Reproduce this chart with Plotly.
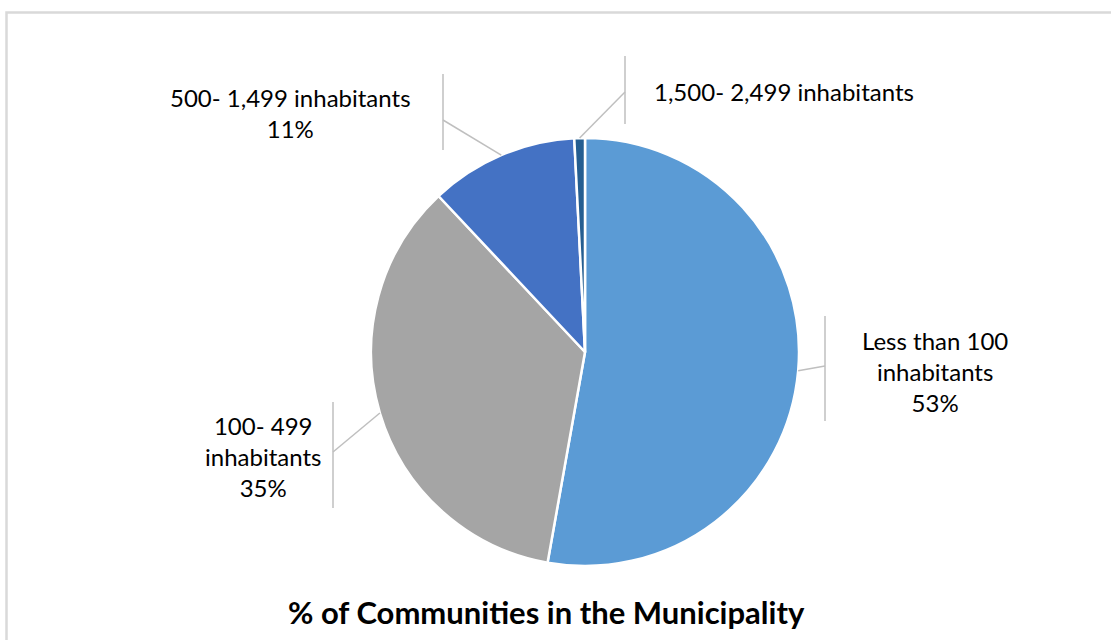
import math
import plotly.graph_objects as go

# ---- data ----
categories = ["Less than 100 inhabitants", "100- 499 inhabitants",
              "500- 1,499 inhabitants", "1,500- 2,499 inhabitants"]
shares = [52.8, 35.2, 11.2, 0.8]
label_texts = ["Less than 100<br>inhabitants<br>53%",
               "100- 499<br>inhabitants<br>35%",
               "500- 1,499 inhabitants<br>11%",
               "1,500- 2,499 inhabitants"]
colors = ["#5B9BD5", "#A5A5A5", "#4472C4", "#255E91"]
title_text = "% of Communities in the Municipality"

# ---- layout helpers (pixel geometry) ----
W, H = 1111, 640
CX, CY, R = 585, 352, 214


def px(x):
    return x / W


def py(y):
    return 1 - y / H


fig = go.Figure()
fig.add_trace(go.Pie(
    labels=categories, values=shares, sort=False, direction="clockwise",
    rotation=0, textinfo="none", hoverinfo="label+percent",
    marker=dict(colors=colors, line=dict(color="white", width=2.5)),
    domain=dict(x=[px(CX - R), px(CX + R)], y=[py(CY + R), py(CY - R)]),
))

# label block placement: (x, y, xanchor, leader elbow x, elbow y, vertical span)
label_layout = [
    (935, 371, "center", 825, 366, (316, 421)),
    (263, 456, "center", 333, 452, (402, 508)),
    (290, 113, "center", 443, 120, (74, 150)),
    (652, 91, "left", 625, 92, (56, 124)),
]

shapes = []
annotations = []
total = sum(shares)
cum = 0.0
for val, txt, (lx, ly, xa, ex, ey, (vy0, vy1)) in zip(shares, label_texts, label_layout):
    mid = (cum + val / 2) / total * 2 * math.pi
    cum += val
    sx = CX + R * math.sin(mid)
    sy = CY - R * math.cos(mid)
    shapes.append(dict(type="line", xref="paper", yref="paper",
                       x0=px(sx), y0=py(sy), x1=px(ex), y1=py(ey),
                       line=dict(color="#BFBFBF", width=1.5)))
    shapes.append(dict(type="line", xref="paper", yref="paper",
                       x0=px(ex), y0=py(vy0), x1=px(ex), y1=py(vy1),
                       line=dict(color="#BFBFBF", width=1.5)))
    annotations.append(dict(text=txt, x=px(lx), y=py(ly), xref="paper", yref="paper",
                            xanchor=xa, yanchor="middle", showarrow=False, align="center",
                            font=dict(family="Lato", size=24, color="#000000")))

annotations.append(dict(text="<b>" + title_text + "</b>", x=px(546), y=py(612),
                        xref="paper", yref="paper", xanchor="center", yanchor="middle",
                        showarrow=False,
                        font=dict(family="Lato", size=31, color="#000000")))

# chart border
shapes.append(dict(type="rect", xref="paper", yref="paper",
                   x0=px(6.5), y0=py(12.5), x1=px(1118), y1=py(660),
                   line=dict(color="#D9D9D9", width=2.5), fillcolor="rgba(0,0,0,0)"))

fig.update_layout(width=W, height=H, margin=dict(l=0, r=0, t=0, b=0),
                  paper_bgcolor="white", plot_bgcolor="white", showlegend=False,
                  shapes=shapes, annotations=annotations)

fig.write_html("out.html", config={"displayModeBar": False},
               post_script="document.body.style.margin='0';document.body.style.padding='0';")
